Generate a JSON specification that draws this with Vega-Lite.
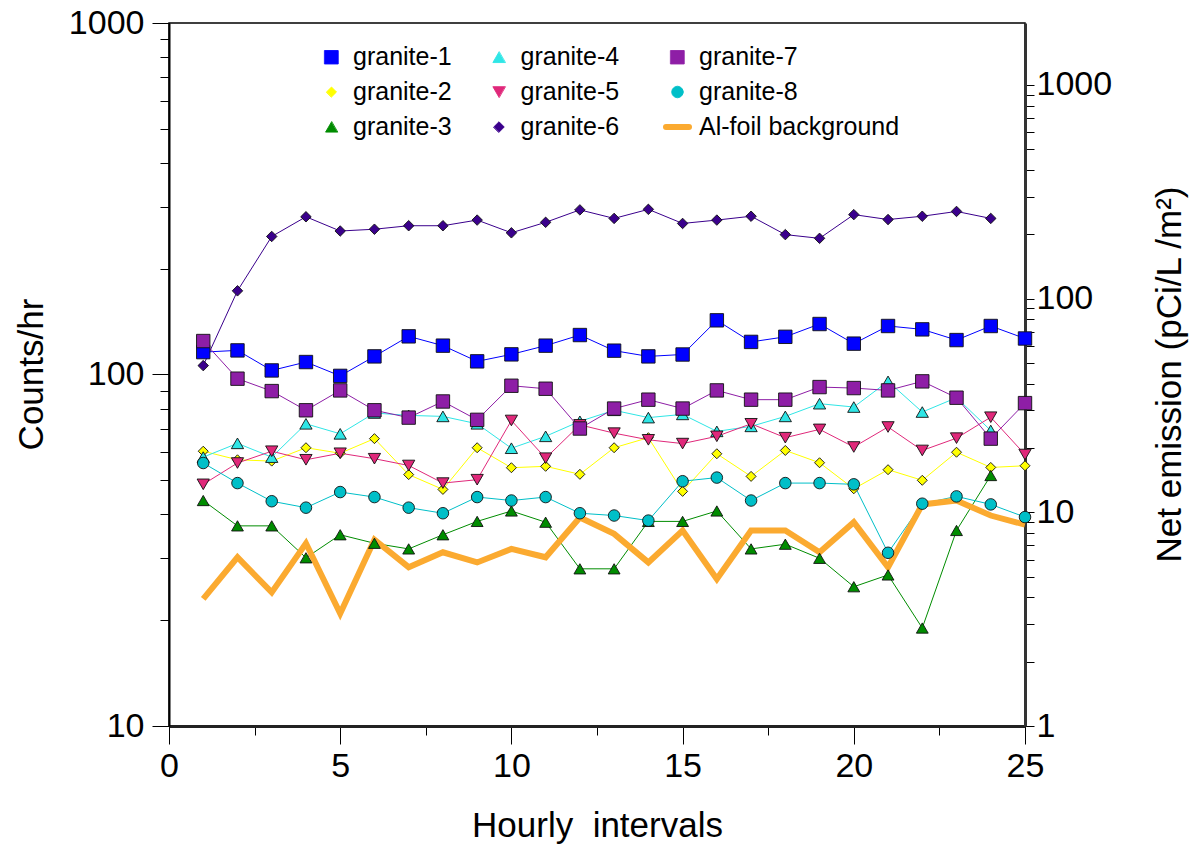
{
  "$schema": "https://vega.github.io/schema/vega-lite/v6.json",
  "width": 856,
  "height": 703,
  "autosize": {"type": "none"},
  "padding": {"left": 169, "top": 23, "right": 171, "bottom": 125},
  "background": "white",
  "config": {
    "font": "Liberation Sans",
    "view": {"stroke": "black", "strokeWidth": 1.5},
    "axis": {"grid": false, "labelColor": "black", "titleColor": "black", "tickColor": "black", "titleFontWeight": "normal", "labelOverlap": false}
  },
  "datasets": {
    "counts": [
      {"hour": 1, "granite-1": 115.8, "granite-2": 60.5, "granite-3": 43.8, "granite-4": 58.2, "granite-5": 48.7, "granite-6": 106, "granite-7": 124.5, "granite-8": 56, "Al-foil background": 23},
      {"hour": 2, "granite-1": 117.1, "granite-2": 57.2, "granite-3": 37.1, "granite-4": 63.7, "granite-5": 56, "granite-6": 173, "granite-7": 97.3, "granite-8": 49.1, "Al-foil background": 30.2},
      {"hour": 3, "granite-1": 102.7, "granite-2": 56.7, "granite-3": 37.1, "granite-4": 58.2, "granite-5": 60.5, "granite-6": 247, "granite-7": 89.7, "granite-8": 43.6, "Al-foil background": 24},
      {"hour": 4, "granite-1": 108.5, "granite-2": 61.9, "granite-3": 30.1, "granite-4": 72.4, "granite-5": 57.2, "granite-6": 281, "granite-7": 79.1, "granite-8": 41.8, "Al-foil background": 33.1},
      {"hour": 5, "granite-1": 99.1, "granite-2": 59.7, "granite-3": 35, "granite-4": 67.8, "granite-5": 59.7, "granite-6": 256, "granite-7": 90.1, "granite-8": 46.3, "Al-foil background": 20.9},
      {"hour": 6, "granite-1": 112.6, "granite-2": 65.7, "granite-3": 33.1, "granite-4": 77.7, "granite-5": 57.6, "granite-6": 259, "granite-7": 79.1, "granite-8": 44.8, "Al-foil background": 33.9},
      {"hour": 7, "granite-1": 128.4, "granite-2": 51.9, "granite-3": 31.9, "granite-4": 76.5, "granite-5": 55.1, "granite-6": 265, "granite-7": 75.4, "granite-8": 41.8, "Al-foil background": 28.3},
      {"hour": 8, "granite-1": 120.8, "granite-2": 47.1, "granite-3": 35, "granite-4": 76, "granite-5": 49.1, "granite-6": 265, "granite-7": 83.8, "granite-8": 40.3, "Al-foil background": 31.2},
      {"hour": 9, "granite-1": 109, "granite-2": 61.9, "granite-3": 38.2, "granite-4": 72.4, "granite-5": 50.2, "granite-6": 275, "granite-7": 74.3, "granite-8": 44.8, "Al-foil background": 29.2},
      {"hour": 10, "granite-1": 114.1, "granite-2": 54.3, "granite-3": 40.9, "granite-4": 61.7, "granite-5": 74, "granite-6": 253, "granite-7": 92.9, "granite-8": 43.8, "Al-foil background": 31.9},
      {"hour": 11, "granite-1": 120.8, "granite-2": 54.8, "granite-3": 38, "granite-4": 66.7, "granite-5": 57.8, "granite-6": 271, "granite-7": 91.1, "granite-8": 44.8, "Al-foil background": 30.2},
      {"hour": 12, "granite-1": 129.5, "granite-2": 52, "granite-3": 28, "granite-4": 73.6, "granite-5": 71.9, "granite-6": 294, "granite-7": 70.2, "granite-8": 40.3, "Al-foil background": 39.2},
      {"hour": 13, "granite-1": 116.9, "granite-2": 61.9, "granite-3": 28, "granite-4": 79.1, "granite-5": 68.1, "granite-6": 278, "granite-7": 80, "granite-8": 39.7, "Al-foil background": 35.2},
      {"hour": 14, "granite-1": 112.6, "granite-2": 66.1, "granite-3": 38.2, "granite-4": 75.4, "granite-5": 65.2, "granite-6": 295, "granite-7": 84.8, "granite-8": 38.4, "Al-foil background": 29.2},
      {"hour": 15, "granite-1": 114, "granite-2": 46.5, "granite-3": 38.2, "granite-4": 77, "granite-5": 63.6, "granite-6": 269, "granite-7": 80, "granite-8": 49.7, "Al-foil background": 36},
      {"hour": 16, "granite-1": 142.6, "granite-2": 59.5, "granite-3": 40.9, "granite-4": 68.9, "granite-5": 66.7, "granite-6": 275, "granite-7": 90.1, "granite-8": 50.9, "Al-foil background": 26.2},
      {"hour": 17, "granite-1": 123.8, "granite-2": 51.3, "granite-3": 31.9, "granite-4": 71.2, "granite-5": 72.4, "granite-6": 282, "granite-7": 84.8, "granite-8": 43.8, "Al-foil background": 36},
      {"hour": 18, "granite-1": 128, "granite-2": 60.8, "granite-3": 32.9, "granite-4": 76, "granite-5": 66.1, "granite-6": 250, "granite-7": 84.8, "granite-8": 49.1, "Al-foil background": 36},
      {"hour": 19, "granite-1": 139.2, "granite-2": 56.1, "granite-3": 30, "granite-4": 82.6, "granite-5": 69.8, "granite-6": 244, "granite-7": 92.1, "granite-8": 49.1, "Al-foil background": 31.2},
      {"hour": 20, "granite-1": 122.4, "granite-2": 47.3, "granite-3": 24.9, "granite-4": 80.8, "granite-5": 62.2, "granite-6": 285, "granite-7": 91.5, "granite-8": 48.7, "Al-foil background": 38},
      {"hour": 21, "granite-1": 137.4, "granite-2": 53.6, "granite-3": 26.9, "granite-4": 95.6, "granite-5": 70.9, "granite-6": 276, "granite-7": 90.1, "granite-8": 31.1, "Al-foil background": 28.3},
      {"hour": 22, "granite-1": 134.4, "granite-2": 50, "granite-3": 19, "granite-4": 78.2, "granite-5": 60.8, "granite-6": 282, "granite-7": 95.6, "granite-8": 42.9, "Al-foil background": 42.7},
      {"hour": 23, "granite-1": 125.3, "granite-2": 60.1, "granite-3": 36, "granite-4": 85.9, "granite-5": 65.9, "granite-6": 291, "granite-7": 85.9, "granite-8": 45, "Al-foil background": 43.8},
      {"hour": 24, "granite-1": 137.4, "granite-2": 54.4, "granite-3": 51.6, "granite-4": 69.3, "granite-5": 75.6, "granite-6": 278, "granite-7": 65.7, "granite-8": 42.7, "Al-foil background": 39.7},
      {"hour": 25, "granite-1": 126.6, "granite-2": 55, "granite-5": 59.2, "granite-7": 82.9, "granite-8": 39.3, "Al-foil background": 37.4}
    ],
    "rightAxis": [{"emission": 1}, {"emission": 1950}]
  },
  "layer": [
    {
      "data": {"name": "counts"},
      "transform": [
        {"fold": ["granite-1", "granite-2", "granite-3", "granite-4", "granite-5", "granite-6", "granite-7", "granite-8", "Al-foil background"], "as": ["series", "counts"]},
        {"filter": "isValid(datum.counts)"}
      ],
      "encoding": {
        "x": {
          "field": "hour", "type": "quantitative",
          "scale": {"domain": [0, 25], "nice": false, "zero": false},
          "axis": {
            "title": "Hourly\u00a0 intervals",
            "values": [0, 2.5, 5, 7.5, 10, 12.5, 15, 17.5, 20, 22.5, 25],
            "labelExpr": "datum.value % 5 === 0 ? datum.value + '' : ''",
            "tickSize": {"condition": {"test": "datum.value % 5 === 0", "value": 18}, "value": 9},
            "tickWidth": 1,
            "domainColor": "#222", "domainWidth": 3,
            "labelFontSize": 34, "labelBaseline": "top", "labelPadding": 5, "labelFlush": false,
            "titleFontSize": 35, "titleX": 428, "titleY": 110, "titleBaseline": "alphabetic", "titleAlign": "center"
          }
        },
        "y": {
          "field": "counts", "type": "quantitative",
          "scale": {"type": "log", "domain": [10, 1000], "nice": false},
          "axis": {
            "title": "Counts/hr",
            "values": [10, 20, 30, 40, 50, 60, 70, 80, 90, 100, 200, 300, 400, 500, 600, 700, 800, 900, 1000],
            "labelExpr": "indexof([10, 100, 1000], datum.value) >= 0 ? datum.value + '' : ''",
            "tickSize": {"condition": {"test": "indexof([10, 100, 1000], datum.value) >= 0", "value": 17}, "value": 9},
            "tickWidth": 1,
            "domainColor": "black", "domainWidth": 2,
            "labelFontSize": 34, "labelPadding": 8, "labelFlush": false, "labelBaseline": "middle",
            "titleFontSize": 35, "titleAngle": -90, "titleX": -127, "titleY": 351, "titleBaseline": "alphabetic", "titleAlign": "center"
          }
        },
        "color": {
          "field": "series", "type": "nominal",
          "scale": {
            "domain": ["granite-1", "granite-2", "granite-3", "granite-4", "granite-5", "granite-6", "granite-7", "granite-8", "Al-foil background"],
            "range": ["#0000FF", "#FFFF00", "#008C00", "#2FE6E6", "#E0287A", "#3A008C", "#8E1EA6", "#00BFC8", "#FBAA30"]
          },
          "legend": {
            "title": null, "orient": "none", "legendX": 150, "legendY": 21.5,
            "values": ["granite-1", "granite-2", "granite-3", "granite-4", "granite-5", "granite-6", "granite-7", "granite-8", "Al-foil background"],
            "columns": 3, "columnPadding": 34.5, "rowPadding": 9, "padding": 0,
            "labelFontSize": 25, "labelFont": "Liberation Sans", "labelColor": "black", "labelOffset": 9, "labelLimit": 300,
            "symbolStrokeColor": "#111", "symbolStrokeWidth": 0.9, "symbolOpacity": 1,
            "encode": {
              "symbols": {
                "update": {
                  "stroke": {"signal": "datum.value === 'Al-foil background' ? '#FBAA30' : '#111'"},
                  "strokeWidth": {"signal": "datum.value === 'Al-foil background' ? 6 : 0.9"},
                  "strokeCap": {"value": "round"}
                }
              }
            }
          }
        }
      },
      "layer": [
        {
          "transform": [{"filter": "datum.series !== 'Al-foil background'"}],
          "mark": {"type": "line", "strokeWidth": 1}
        },
        {
          "transform": [{"filter": "datum.series === 'Al-foil background'"}],
          "mark": {"type": "line", "strokeWidth": 6}
        },
        {
          "transform": [{"filter": "datum.series !== 'Al-foil background'"}],
          "mark": {"type": "point", "filled": true, "opacity": 1, "stroke": "#111", "strokeWidth": 0.9},
          "encoding": {
            "shape": {
              "field": "series", "type": "nominal",
              "scale": {
                "domain": ["granite-1", "granite-2", "granite-3", "granite-4", "granite-5", "granite-6", "granite-7", "granite-8", "Al-foil background"],
                "range": ["square", "diamond", "triangle-up", "triangle-up", "triangle-down", "diamond", "square", "circle", "stroke"]
              }
            },
            "size": {
              "field": "series", "type": "nominal",
              "scale": {
                "type": "ordinal",
                "domain": ["granite-1", "granite-2", "granite-3", "granite-4", "granite-5", "granite-6", "granite-7", "granite-8", "Al-foil background"],
                "range": [180, 100, 140, 150, 150, 110, 180, 133, 529]
              }
            }
          }
        }
      ]
    },
    {
      "data": {"name": "rightAxis"},
      "mark": {"type": "point", "opacity": 0},
      "encoding": {
        "y": {
          "field": "emission", "type": "quantitative",
          "scale": {"type": "log", "domain": [1, 1950], "nice": false},
          "axis": {
            "orient": "right",
            "title": "Net emission (pCi/L /m²)",
            "values": [1, 2, 3, 4, 5, 6, 7, 8, 9, 10, 20, 30, 40, 50, 60, 70, 80, 90, 100, 200, 300, 400, 500, 600, 700, 800, 900, 1000],
            "labelExpr": "indexof([1, 10, 100, 1000], datum.value) >= 0 ? datum.value + '' : ''",
            "tickSize": 9, "tickWidth": 1,
            "domainColor": "#333", "domainWidth": 3,
            "labelFontSize": 34, "labelPadding": 2, "labelFlush": true, "labelBaseline": "middle",
            "titleFontSize": 35, "titleAngle": -90, "titleX": 155, "titleY": 351, "titleBaseline": "alphabetic", "titleAlign": "center"
          }
        }
      }
    }
  ],
  "resolve": {"scale": {"y": "independent"}, "axis": {"y": "independent"}}
}
